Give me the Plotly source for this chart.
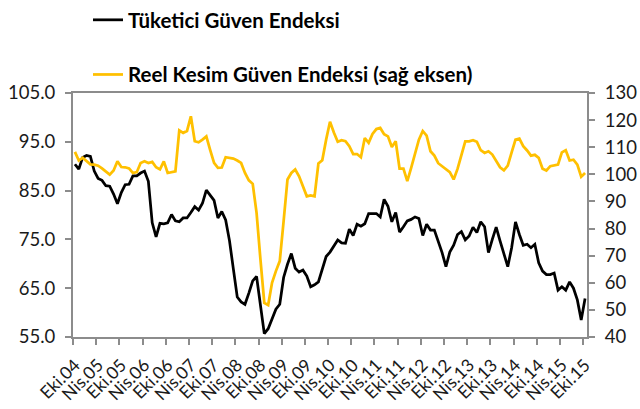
import plotly.graph_objects as go

# Turkish month abbreviations used for the period labels
AYLAR = ["Oca", "Şub", "Mar", "Nis", "May", "Haz", "Tem", "Ağu", "Eyl", "Eki", "Kas", "Ara"]

# Tüketici Güven Endeksi (left axis), monthly from Eki.04
tuketici = [
    90.4, 89.4, 91.8,                                                        # 2004
    92.2, 92.0, 89.0, 87.5, 87.1, 86.0, 85.9, 84.3, 82.3, 84.6, 86.2, 86.3,  # 2005
    88.0, 88.0, 88.6, 89.0, 86.9, 78.4, 75.5, 78.3, 78.2, 78.4, 80.1, 78.8,  # 2006
    78.6, 79.4, 79.4, 80.5, 81.7, 81.0, 82.4, 85.1, 84.0, 83.0, 79.4, 80.7,  # 2007
    79.0, 74.7, 68.9, 63.2, 62.2, 61.7, 64.0, 66.5, 67.4, 61.3, 55.7, 56.7,  # 2008
    58.6, 60.7, 61.7, 67.2, 69.9, 72.1, 69.1, 68.3, 68.7, 67.5, 65.3, 65.7,  # 2009
    66.3, 68.9, 71.5, 72.4, 73.7, 74.9, 74.3, 74.2, 77.1, 75.8, 78.1, 77.7,  # 2010
    78.2, 80.3, 80.3, 80.3, 79.6, 83.2, 81.8, 78.6, 80.5, 76.5, 77.6, 78.8,  # 2011
    79.1, 79.6, 79.3, 75.8, 78.1, 76.9, 76.9, 74.7, 72.3, 69.4, 72.4, 73.8,  # 2012
    76.0, 76.6, 74.9, 75.7, 77.5, 76.4, 78.6, 77.6, 72.3, 75.0, 77.5, 74.7,  # 2013
    71.9, 69.4, 73.3, 78.6, 76.0, 73.8, 74.0, 73.3, 74.0, 70.2, 68.5, 67.8,  # 2014
    67.8, 68.1, 64.6, 65.3, 64.6, 66.3, 65.0, 62.6, 58.5, 62.9,              # 2015
]

# Reel Kesim Güven Endeksi (right axis), same months
reel_kesim = [
    108.3, 105.1, 106.1,
    104.8, 103.7, 103.6, 103.2, 102.2, 100.9, 99.9, 101.4, 104.8, 102.7, 102.6, 102.2,
    100.5, 100.8, 104.2, 104.8, 104.2, 104.6, 102.6, 101.8, 104.8, 100.5, 100.8, 101.1,
    116.2, 115.3, 116.0, 121.4, 112.2, 111.8, 112.8, 114.0, 108.9, 104.2, 102.4, 102.5,
    106.3, 106.1, 105.8, 105.1, 104.2, 100.5, 97.8, 96.5, 85.8, 68.6, 52.6, 51.8,
    60.0, 64.3, 68.0, 82.7, 98.1, 100.5, 101.8, 99.3, 95.9, 91.9, 92.2, 91.9,
    104.0, 105.2, 112.8, 119.4, 115.4, 112.0, 112.6, 112.2, 110.4, 107.5, 107.5, 106.3,
    113.4, 111.6, 114.9, 116.7, 117.1, 114.8, 114.0, 110.1, 112.2, 102.1, 102.1, 97.5,
    102.4, 107.9, 112.8, 116.0, 114.3, 108.5, 106.9, 104.1, 102.9, 102.0, 100.8, 98.1,
    102.0, 107.1, 112.2, 112.2, 112.6, 112.0, 108.9, 107.9, 108.5, 107.3, 104.8, 102.6,
    101.5, 103.2, 108.1, 112.8, 113.2, 110.4, 108.8, 106.9, 107.2, 106.1, 102.1, 101.4,
    103.0, 103.4, 103.6, 108.1, 108.9, 105.1, 105.4, 103.6, 99.1, 100.5,
]

# Period labels: Eki.04, Kas.04, ...
donem = []
yil, ay = 2004, 10
for _ in range(len(tuketici)):
    donem.append(f"{AYLAR[ay - 1]}.{yil % 100:02d}")
    ay += 1
    if ay > 12:
        ay, yil = 1, yil + 1

x = list(range(len(donem)))
etiket_idx = x[::6]
sinirlar = [i - 0.5 for i in etiket_idx]

EKSEN = "#8c8c8c"
YAZI = "#1a1a1a"
FONT = "Lato"

fig = go.Figure()
fig.add_trace(go.Scatter(
    x=x, y=tuketici, name="Tüketici Güven Endeksi", mode="lines",
    line=dict(color="#000000", width=2.75), legendgroup="tuketici",
))
fig.add_trace(go.Scatter(
    x=x, y=reel_kesim, name="Reel Kesim Güven Endeksi (sağ eksen)", mode="lines",
    line=dict(color="#FFC000", width=2.75), yaxis="y2", legendgroup="reel",
))

fig.update_layout(
    width=640, height=409,
    margin=dict(l=73, r=53, t=93, b=72, autoexpand=False),
    paper_bgcolor="white", plot_bgcolor="white",
    font=dict(family=FONT, color=YAZI),
    showlegend=True,
    legend=dict(
        xref="container", yref="container", x=88 / 640, y=1,
        xanchor="left", yanchor="top", orientation="v",
        font=dict(family=FONT, size=20.5, color="#000000", weight="bold"),
        tracegroupgap=25, bgcolor="rgba(0,0,0,0)",
    ),
    xaxis=dict(
        range=[-0.5, len(x) - 0.5], tickmode="array", tickvals=etiket_idx,
        ticktext=[donem[i] for i in etiket_idx], tickangle=-45, ticks="",
        tickfont=dict(size=17.5, family=FONT, color=YAZI), ticklabelstandoff=9,
        showline=True, linecolor=EKSEN, linewidth=2, mirror=True,
        showgrid=False, zeroline=False,
        minor=dict(tickmode="array", tickvals=sinirlar, ticks="outside",
                   ticklen=6, tickwidth=1.5, tickcolor=EKSEN, showgrid=False),
    ),
    yaxis=dict(
        range=[55, 105], tick0=55, dtick=10, tickformat=".1f",
        ticks="outside", ticklen=6, tickwidth=1.5, tickcolor=EKSEN,
        tickfont=dict(size=18.5, family=FONT, color=YAZI), ticklabelstandoff=6,
        showline=True, linecolor=EKSEN, linewidth=2,
        showgrid=False, zeroline=False,
    ),
    yaxis2=dict(
        range=[40, 130], tick0=40, dtick=10, overlaying="y", side="right",
        ticks="outside", ticklen=6, tickwidth=1.5, tickcolor=EKSEN,
        tickfont=dict(size=18.5, family=FONT, color=YAZI), ticklabelstandoff=6,
        showline=True, linecolor=EKSEN, linewidth=2,
        showgrid=False, zeroline=False,
    ),
)

fig.write_html("out.html")
